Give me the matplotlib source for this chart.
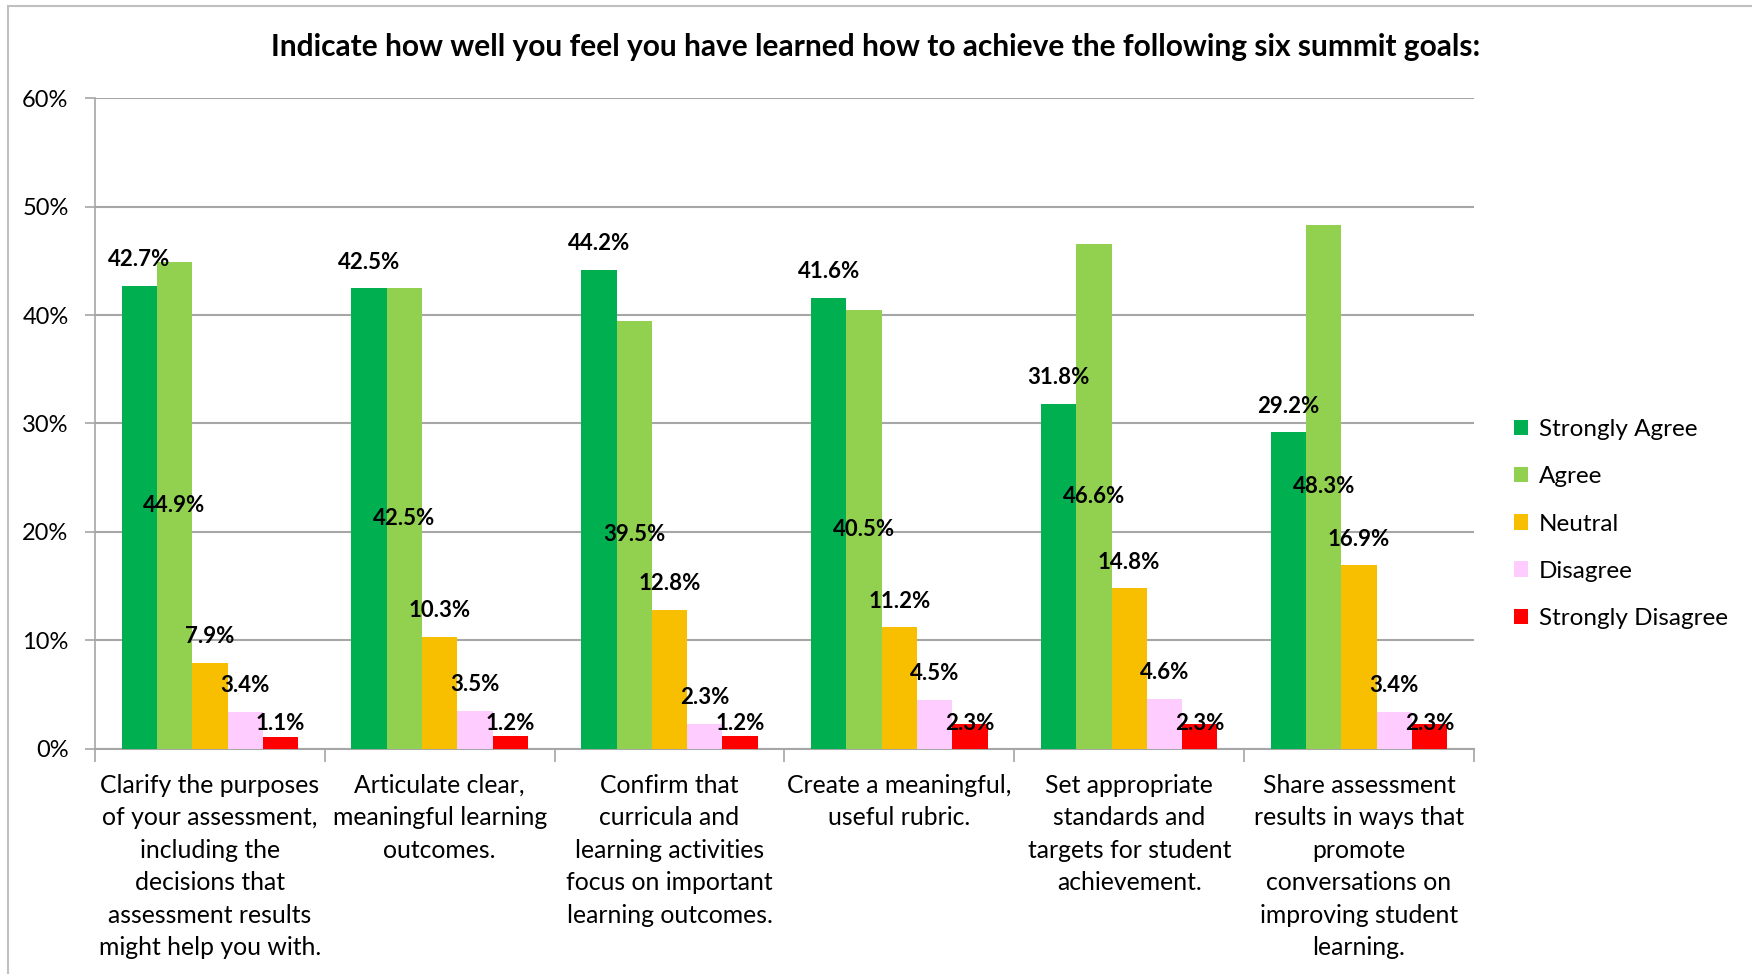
import matplotlib
matplotlib.use("Agg")
import matplotlib.pyplot as plt
import matplotlib.ticker as mtick
from matplotlib.patches import Rectangle
import numpy as np

plt.rcParams["font.family"] = ["Lato", "DejaVu Sans"]

categories = [
    "Clarify the purposes\nof your assessment,\nincluding the\ndecisions that\nassessment results\nmight help you with.",
    "Articulate clear,\nmeaningful learning\noutcomes.",
    "Confirm that\ncurricula and\nlearning activities\nfocus on important\nlearning outcomes.",
    "Create a meaningful,\nuseful rubric.",
    "Set appropriate\nstandards and\ntargets for student\nachievement.",
    "Share assessment\nresults in ways that\npromote\nconversations on\nimproving student\nlearning.",
]
series_names = ["Strongly Agree", "Agree", "Neutral", "Disagree", "Strongly Disagree"]
strongly_agree = [42.7, 42.5, 44.2, 41.6, 31.8, 29.2]
agree = [44.9, 42.5, 39.5, 40.5, 46.6, 48.3]
neutral = [7.9, 10.3, 12.8, 11.2, 14.8, 16.9]
disagree = [3.4, 3.5, 2.3, 4.5, 4.6, 3.4]
strongly_disagree = [1.1, 1.2, 1.2, 2.3, 2.3, 2.3]

colors = ["#00B050", "#92D050", "#F8BE00", "#FFCCFF", "#FF0000"]
values = [strongly_agree, agree, neutral, disagree, strongly_disagree]

fig = plt.figure(figsize=(17.52, 9.74), dpi=100)
ax = fig.add_axes([0.0542, 0.2314, 0.7871, 0.6676])

# light frame round the chart area
fig.patches.append(Rectangle((8 / 1752, -0.1), 1.2, 1.1 - 6 / 974, transform=fig.transFigure,
                             fill=False, edgecolor="#BFBFBF", linewidth=1.5))

x = np.arange(len(categories))
width = 0.1536
for i, (name, vals, col) in enumerate(zip(series_names, values, colors)):
    pos = x + (i - 2) * width
    ax.bar(pos, vals, width, color=col, label=name, edgecolor="none", zorder=3)
    for p, v in zip(pos, vals):
        if name == "Agree":
            y = v / 2
        elif name == "Strongly Disagree":
            y = max(v, 2.35)
        else:
            y = v + 2.4
        ax.text(p, y, f"{v:.1f}%", ha="center", va="center", fontsize=16,
                fontweight="bold", color="black", zorder=5)

ax.set_xlim(-0.5, len(categories) - 0.5)
ax.set_ylim(0, 60)
ax.yaxis.set_major_locator(mtick.MultipleLocator(10))
ax.yaxis.set_major_formatter(mtick.PercentFormatter(decimals=0))
ax.grid(axis="y", color="#A6A6A6", linewidth=1.5, zorder=0)

ax.set_xticks(x)
ax.set_xticklabels(categories, fontsize=17.8, linespacing=1.5)
ax.set_xticks(np.arange(len(categories) + 1) - 0.5, minor=True)
ax.tick_params(axis="x", which="major", length=0, pad=18)
ax.tick_params(axis="x", which="minor", length=9, width=1.2, color="#A6A6A6", direction="out")
ax.tick_params(axis="y", length=7, width=1.2, color="#A6A6A6", labelsize=17, pad=12)

for s in ["top", "right"]:
    ax.spines[s].set_visible(False)
ax.spines["left"].set_color("#A6A6A6")
ax.spines["bottom"].set_color("#A6A6A6")
ax.spines["left"].set_linewidth(1.2)
ax.spines["bottom"].set_linewidth(1.5)

fig.text(0.5, 1 - 47 / 974, "Indicate how well you feel you have learned how to achieve the following six summit goals:",
         ha="center", va="center", fontsize=21.5, fontweight="bold")

ax.legend(loc="center left", bbox_to_anchor=(0.8515, 0.462), bbox_transform=fig.transFigure,
          frameon=False, fontsize=17.5, handlelength=0.6, handleheight=0.6, handletextpad=0.45,
          labelspacing=1.08)

fig.savefig("out.png", dpi=100, facecolor="white")
